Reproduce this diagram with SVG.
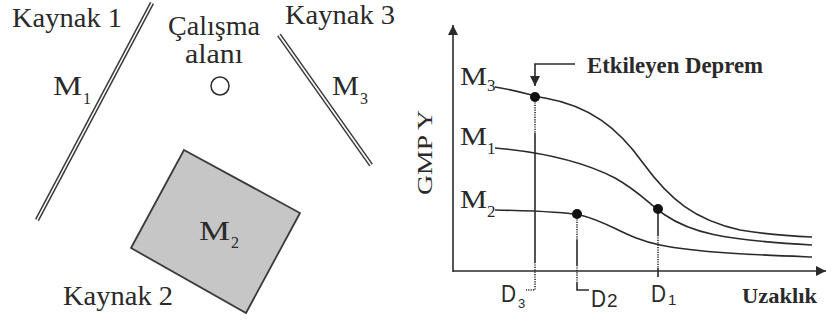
<svg xmlns="http://www.w3.org/2000/svg" width="826" height="322" viewBox="0 0 826 322">
<style>
.t{font-family:"Liberation Serif","Times New Roman","DejaVu Serif",serif;fill:#2a2a2a}
.b{font-family:"Liberation Serif","Times New Roman","DejaVu Serif",serif;font-weight:bold;fill:#2a2a2a}
.s{font-family:"Liberation Sans",Arial,sans-serif;fill:#2a2a2a}
.ln{fill:none;stroke:#2a2a2a;stroke-width:1.6}
.dl{fill:none;stroke:#3a3a3a;stroke-width:4.6}
.dw{fill:none;stroke:#fff;stroke-width:1.6}
.dot{stroke:#2a2a2a;stroke-width:1.6;fill:none;stroke-dasharray:1.2 1.2}
</style>
<defs>
<marker id="ah" viewBox="0 0 10 10" refX="10" refY="5" markerWidth="10" markerHeight="10" markerUnits="userSpaceOnUse" orient="auto">
<path d="M0,0 L10,5 L0,10 z" fill="#2a2a2a"/>
</marker>
</defs>
<rect width="826" height="322" fill="#fff"/>

<g id="kaynak1">
<path class="dl" d="M152,3 L37,220"/>
<path class="dw" d="M152,3 L37,220"/>
<text class="t" x="12" y="27" font-size="28" textLength="110" lengthAdjust="spacingAndGlyphs">Kaynak 1</text>
<text class="t" x="53" y="95" font-size="27" textLength="29" lengthAdjust="spacingAndGlyphs">M</text>
<text class="t" x="83" y="104" font-size="16">1</text>
</g>

<g id="calisma">
<text class="t" x="168" y="35" font-size="28" textLength="92" lengthAdjust="spacingAndGlyphs">Çalışma</text>
<text class="t" x="185" y="63" font-size="28" textLength="58" lengthAdjust="spacingAndGlyphs">alanı</text>
<circle cx="220" cy="86" r="9" fill="none" stroke="#2a2a2a" stroke-width="1.5"/>
</g>

<g id="kaynak3">
<path class="dl" d="M279,35 L371,165"/>
<path class="dw" d="M279,35 L371,165"/>
<text class="t" x="285" y="24" font-size="28" textLength="110" lengthAdjust="spacingAndGlyphs">Kaynak 3</text>
<text class="t" x="332" y="95" font-size="27" textLength="27" lengthAdjust="spacingAndGlyphs">M</text>
<text class="t" x="360" y="104" font-size="16">3</text>
</g>

<g id="kaynak2">
<polygon points="184,150 300,213 246,313 131,248" fill="#c6c6c6" stroke="#3a3a3a" stroke-width="1.8"/>
<text class="t" x="199" y="240" font-size="27" textLength="31" lengthAdjust="spacingAndGlyphs">M</text>
<text class="t" x="231" y="248" font-size="16">2</text>
<text class="t" x="63" y="305" font-size="28" textLength="110" lengthAdjust="spacingAndGlyphs">Kaynak 2</text>
</g>

<g id="connectors">
<path class="ln" d="M453,272 L453,25" marker-end="url(#ah)"/>
<path class="ln" d="M453,271 L826,271" marker-end="url(#ah)"/>
<path class="ln" d="M495,87 C515,90 530,95 545,98 C590,106 618,128 643,163 C670,200 695,220 740,230 C770,235 790,236 812,237"/>
<path class="ln" d="M495,148 C540,152 580,160 615,178 C640,192 650,205 665,215 C690,232 720,240 812,245"/>
<path class="ln" d="M495,210 C540,211 565,212 580,215 C610,222 625,238 660,245 C700,253 760,255 812,257"/>
<path class="ln" d="M575,64 L535,64 L535,86" marker-end="url(#ah)"/>
<path class="dot" d="M535,100 L535,133"/>
<path class="ln" d="M535,133 L535,262"/>
<path class="dot" d="M535,262 L535,290 L526,290"/>
<path class="dot" d="M577,217 L577,240"/>
<path class="ln" d="M577,240 L577,265"/>
<path class="dot" d="M577,265 L577,282"/>
<path class="ln" d="M577,282 L577,290 L589,290"/>
<path class="ln" d="M658,212 L658,235"/>
<path class="dot" d="M658,235 L658,268"/>
<path class="ln" d="M658,268 L658,277"/>
</g>

<g id="points">
<circle cx="535" cy="97" r="5" fill="#111"/>
<circle cx="577" cy="214" r="5" fill="#111"/>
<circle cx="658" cy="209" r="5" fill="#111"/>
</g>

<g id="labels">
<text class="t" font-size="20" transform="translate(432,195) rotate(-90)" textLength="85" lengthAdjust="spacingAndGlyphs">GMP Y</text>
<text class="t" x="460" y="85" font-size="26" textLength="27" lengthAdjust="spacingAndGlyphs">M</text>
<text class="t" x="487" y="91" font-size="17">3</text>
<text class="t" x="460" y="145" font-size="26" textLength="27" lengthAdjust="spacingAndGlyphs">M</text>
<text class="t" x="487" y="154" font-size="17">1</text>
<text class="t" x="460" y="208" font-size="26" textLength="27" lengthAdjust="spacingAndGlyphs">M</text>
<text class="t" x="487" y="217" font-size="17">2</text>
<text class="b" x="587" y="73" font-size="23" textLength="176" lengthAdjust="spacingAndGlyphs">Etkileyen Deprem</text>
<text class="b" x="742" y="303" font-size="22" textLength="75" lengthAdjust="spacingAndGlyphs">Uzaklık</text>
<text class="s" x="501" y="302" font-size="24" textLength="15" lengthAdjust="spacingAndGlyphs">D</text>
<text class="s" x="518" y="308" font-size="13">3</text>
<text class="s" x="591" y="307" font-size="24" textLength="15" lengthAdjust="spacingAndGlyphs">D</text>
<text class="s" x="607" y="307" font-size="19">2</text>
<text class="s" x="651" y="302" font-size="24" textLength="15" lengthAdjust="spacingAndGlyphs">D</text>
<text class="s" x="668" y="305" font-size="15">1</text>
</g>
</svg>
